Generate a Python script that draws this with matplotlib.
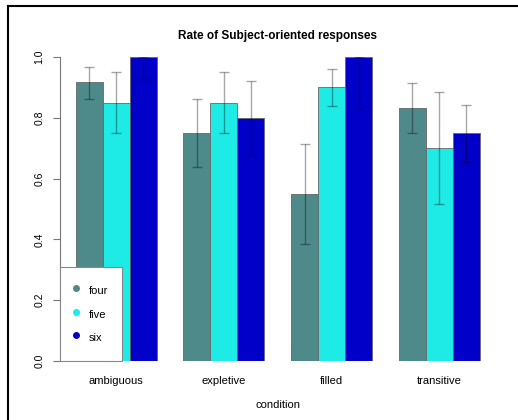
import numpy as np
import matplotlib
matplotlib.use("Agg")
import matplotlib.pyplot as plt
from matplotlib.lines import Line2D

plt.rcParams['font.family'] = ['Liberation Sans', 'DejaVu Sans']

conditions = ['ambiguous', 'expletive', 'filled', 'transitive']
series = ['four', 'five', 'six']
colors = ['#4f8a8a', '#1eebe6', '#0000c8']

# mean rate per condition and its error-bar limits
rate_four = [0.917, 0.75, 0.55, 0.833]
rate_five = [0.85, 0.85, 0.90, 0.70]
rate_six = [1.0, 0.80, 1.0, 0.75]
lo_four = [0.863, 0.637, 0.384, 0.75]
hi_four = [0.968, 0.862, 0.715, 0.915]
lo_five = [0.75, 0.75, 0.838, 0.515]
hi_five = [0.951, 0.951, 0.96, 0.884]
lo_six = [0.926, 0.677, 0.829, 0.656]
hi_six = [1.0, 0.922, 1.0, 0.843]

rates = [rate_four, rate_five, rate_six]
lows = [lo_four, lo_five, lo_six]
highs = [hi_four, hi_five, hi_six]

fig = plt.figure(figsize=(5.18, 4.2), dpi=100)
ax = fig.add_axes([0.1149, 0.1405, 0.8426, 0.7238])

n = len(conditions)
for s in range(3):
    x = 1.5 + 4 * np.arange(n) + s
    vals = np.array(rates[s])
    ax.bar(x, vals, width=1.0, color=colors[s], edgecolor='#666666',
           linewidth=0.6, zorder=2, label=series[s])
    err = [vals - np.array(lows[s]), np.array(highs[s]) - vals]
    ax.errorbar(x, vals, yerr=err, fmt='none', ecolor=(0, 0, 0, 0.35),
                elinewidth=1.0, capsize=3.3, capthick=1.0, zorder=3)

ax.set_xlim(0.4, 16.6)
ax.set_ylim(0, 1)
ax.set_xticks(2.5 + 4 * np.arange(n))
ax.set_xticklabels(conditions, fontsize=8)
ax.tick_params(axis='x', length=0, pad=11)
ax.set_yticks([0, 0.2, 0.4, 0.6, 0.8, 1.0])
ax.set_yticklabels(['0.0', '0.2', '0.4', '0.6', '0.8', '1.0'], rotation=90,
                   va='center', fontsize=7.5)
ax.tick_params(axis='y', length=5, width=0.8, color='#777777', pad=6)
for sp in ['top', 'right', 'bottom']:
    ax.spines[sp].set_visible(False)
ax.spines['left'].set_color('#777777')
ax.spines['left'].set_linewidth(0.8)

ax.set_xlabel('condition', fontsize=8, labelpad=10)
ax.set_title('Rate of Subject-oriented responses', fontsize=8.5, fontweight='bold', pad=13)

handles = [Line2D([], [], marker='o', linestyle='none', markersize=4,
                  markerfacecolor=c, markeredgecolor=c) for c in colors]
leg = ax.legend(handles, series, loc='lower left', bbox_to_anchor=(0, 0),
                borderaxespad=0, fancybox=False, framealpha=1, fontsize=8,
                handletextpad=1.0, labelspacing=0.6, borderpad=1.3,
                handlelength=0.3, handleheight=2.0)
leg.get_frame().set_edgecolor('#888888')
leg.get_frame().set_linewidth(0.8)
leg.set_zorder(5)

# frame lines of the original screenshot
fig.add_artist(Line2D([8 / 518, 1], [1 - 6 / 420, 1 - 6 / 420], color='black',
                      linewidth=1.5, transform=fig.transFigure))
fig.add_artist(Line2D([8 / 518, 8 / 518], [0, 1 - 6 / 420], color='black',
                      linewidth=1.5, transform=fig.transFigure))

fig.savefig('out.png', dpi=100)
